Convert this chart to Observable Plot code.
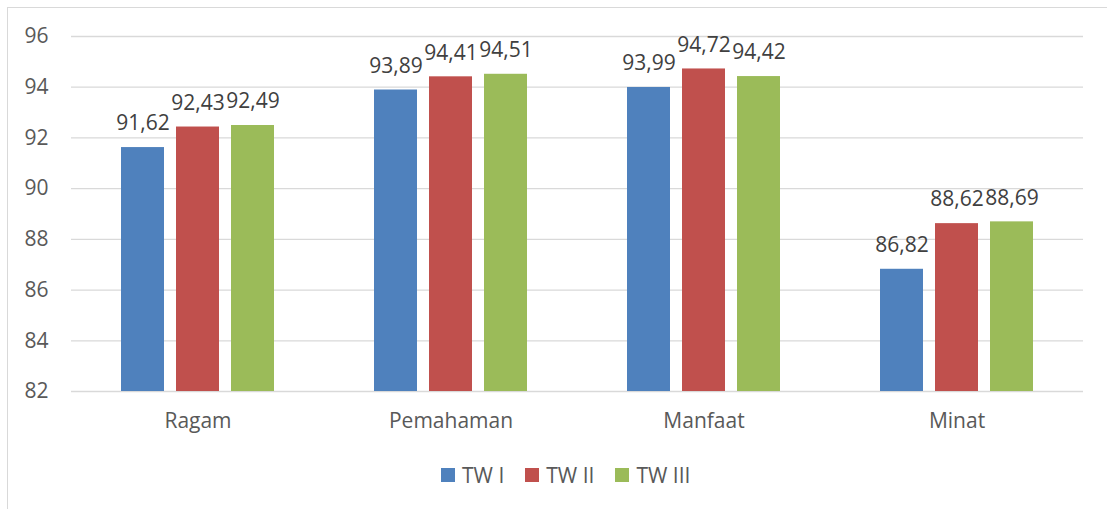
<!DOCTYPE html>
<html>
<head>
<meta charset="utf-8">
<script src="https://cdn.jsdelivr.net/npm/d3@7"></script>
<script src="https://cdn.jsdelivr.net/npm/@observablehq/plot@0.6"></script>
<style>
  html, body { margin: 0; padding: 0; background: #fff; }
  #wrap { position: relative; width: 1107px; height: 509px; overflow: hidden; font-family: "Open Sans", sans-serif; }
  #frame { position: absolute; left: 7px; top: 7px; right: 0; bottom: 0; border-left: 1.5px solid #d9d9d9; border-top: 1.5px solid #d9d9d9; }
  #chart { position: absolute; left: 0; top: 0; }
  #legend { position: absolute; top: 460px; left: 441px; display: flex; gap: 21px; font-size: 21px; line-height: 30px; color: #595959; }
  .item { display: flex; align-items: center; gap: 7px; }
  .sw { width: 14px; height: 14px; display: inline-block; }
</style>
</head>
<body>
<div id="wrap">
  <div id="frame"></div>
  <div id="chart"></div>
  <div id="legend"></div>
</div>
<script>
const categories = ["Ragam", "Pemahaman", "Manfaat", "Minat"];
const series = ["TW I", "TW II", "TW III"];
const twI = [91.62, 93.89, 93.99, 86.82];
const twII = [92.43, 94.41, 94.72, 88.62];
const twIII = [92.49, 94.51, 94.42, 88.69];
const yTicks = [82, 84, 86, 88, 90, 92, 94, 96];
const colors = ["#4f81bd", "#c0504d", "#9bbb59"];

const valuesBySeries = [twI, twII, twIII];
const data = [];
categories.forEach((c, i) => {
  series.forEach((s, j) => {
    data.push({category: c, series: s, value: valuesBySeries[j][i], base: yTicks[0]});
  });
});

const fmt = v => v.toFixed(2).replace(".", ",");

const chart = Plot.plot({
  width: 1107,
  height: 509,
  marginTop: 36,
  marginBottom: 118,
  marginLeft: 71,
  marginRight: 24,
  style: {fontFamily: "'Open Sans', sans-serif", fontSize: "21px", color: "#595959", background: "transparent"},
  fx: {domain: categories, padding: 0, label: null, axis: "bottom", tickSize: 0, tickPadding: 22},
  x: {domain: series, paddingInner: 0.214, paddingOuter: 0.866, axis: null},
  y: {domain: [yTicks[0], yTicks[yTicks.length - 1]], ticks: yTicks, label: null, tickSize: 0, tickPadding: 23},
  color: {domain: series, range: colors},
  marks: [
    Plot.ruleY(yTicks, {stroke: "#d9d9d9", strokeWidth: 1.3}),
    Plot.barY(data, {fx: "category", x: "series", y1: "base", y2: "value", fill: "series"}),
    Plot.text(data, {fx: "category", x: "series", y: "value", text: d => fmt(d.value), dy: -24, fill: "#404040", fontSize: 21})
  ]
});
document.getElementById("chart").appendChild(chart);

const legend = document.getElementById("legend");
series.forEach((s, j) => {
  const it = document.createElement("div");
  it.className = "item";
  it.innerHTML = `<span class="sw" style="background:${colors[j]}"></span><span>${s}</span>`;
  legend.appendChild(it);
});
</script>
</body>
</html>
